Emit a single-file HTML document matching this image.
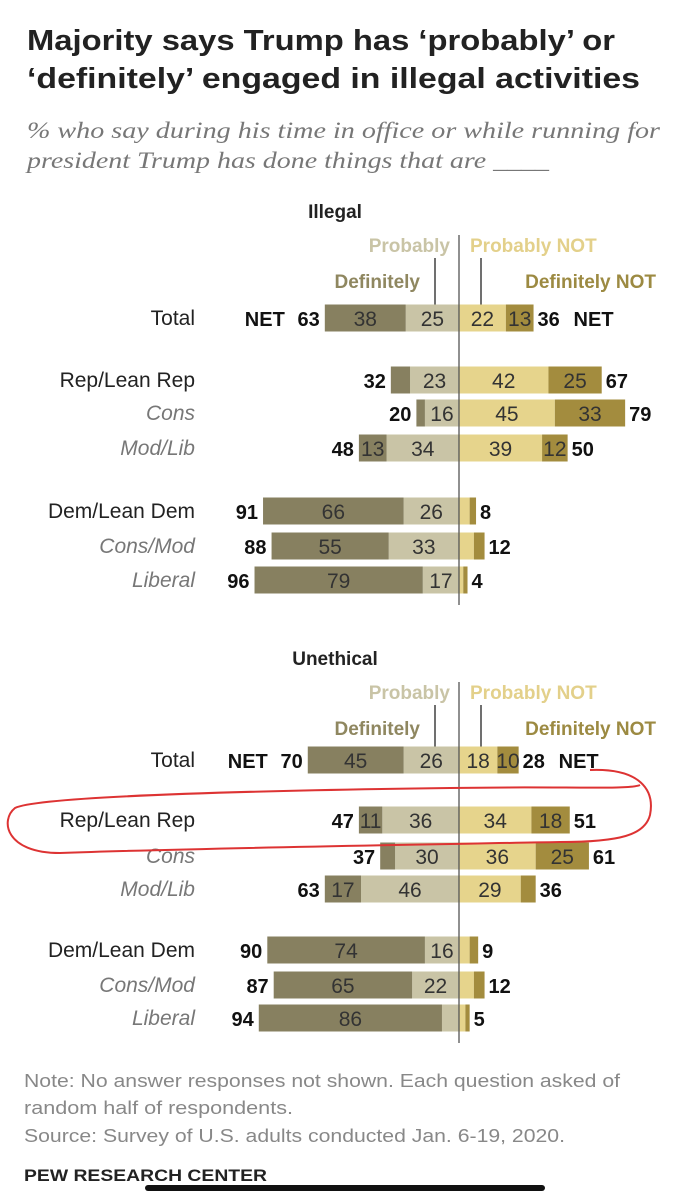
<!DOCTYPE html>
<html><head><meta charset="utf-8">
<style>
body{margin:0;background:#fff;width:695px;height:1200px;overflow:hidden;font-family:"Liberation Sans",Arial,sans-serif}
svg{display:block}
</style></head>
<body>
<svg id="c" width="695" height="1200" xmlns="http://www.w3.org/2000/svg">
<text x="27" y="50" font-size="29" font-weight="bold" fill="#222" textLength="588" lengthAdjust="spacingAndGlyphs">Majority says Trump has ‘probably’ or</text>
<text x="27" y="88" font-size="29" font-weight="bold" fill="#222" textLength="613" lengthAdjust="spacingAndGlyphs">‘definitely’ engaged in illegal activities</text>
<text x="27" y="138" font-size="23" font-style="italic" fill="#777" font-family="Liberation Serif,serif" textLength="633" lengthAdjust="spacingAndGlyphs">% who say during his time in office or while running for</text>
<text x="27" y="168" font-size="23" font-style="italic" fill="#777" font-family="Liberation Serif,serif" textLength="522" lengthAdjust="spacingAndGlyphs">president Trump has done things that are ____</text>
<text x="24" y="1087" font-size="18" fill="#888" textLength="596" lengthAdjust="spacingAndGlyphs">Note: No answer responses not shown. Each question asked of</text>
<text x="24" y="1114" font-size="18" fill="#888" textLength="269" lengthAdjust="spacingAndGlyphs">random half of respondents.</text>
<text x="24" y="1142" font-size="18" fill="#888" textLength="541" lengthAdjust="spacingAndGlyphs">Source: Survey of U.S. adults conducted Jan. 6-19, 2020.</text>
<text x="24" y="1181" font-size="17" font-weight="bold" fill="#222" textLength="243" lengthAdjust="spacingAndGlyphs">PEW RESEARCH CENTER</text>
<rect x="145" y="1185" width="400" height="6" rx="3" fill="#111"/>
</svg>
<script>
const labels=["Total","Rep/Lean Rep","Cons","Mod/Lib","Dem/Lean Dem","Cons/Mod","Liberal"];
const illDef=[38,9,4,13,66,55,79];
const illProb=[25,23,16,34,26,33,17];
const illProbNot=[22,42,45,39,5,7,2];
const illDefNot=[13,25,33,12,3,5,2];
const illNetL=[63,32,20,48,91,88,96];
const illNetR=[36,67,79,50,8,12,4];
const unDef=[45,11,7,17,74,65,86];
const unProb=[26,36,30,46,16,22,8];
const unProbNot=[18,34,36,29,5,7,3];
const unDefNot=[10,18,25,7,4,5,2];
const unNetL=[70,47,37,63,90,87,94];
const unNetR=[28,51,61,36,9,12,5];
const ill={def:illDef,prob:illProb,pn:illProbNot,dn:illDefNot,nl:illNetL,nr:illNetR,show:{d:[1,0,0,1,1,1,1],p:[1,1,1,1,1,1,1],pn:[1,1,1,1,0,0,0],dn:[1,1,1,1,0,0,0]}};
const un={def:unDef,prob:unProb,pn:unProbNot,dn:unDefNot,nl:unNetL,nr:unNetR,show:{d:[1,1,0,1,1,1,1],p:[1,1,1,1,1,1,0],pn:[1,1,1,1,0,0,0],dn:[1,1,1,0,0,0,0]}};
const svg=document.getElementById('c');const NS="http://www.w3.org/2000/svg";
const CX=459,K=2.13,BH=27;
const x=v=>v*K;
function el(t,a,txt){const e=document.createElementNS(NS,t);for(const k in a)e.setAttribute(k,a[k]);if(txt!==undefined)e.textContent=txt;svg.appendChild(e);return e;}
function panel(d,rowsY,title,titleY,name){
 const t=el('text',{x:335,y:titleY,'font-size':19,'font-weight':'bold',fill:'#222','text-anchor':'middle'},title);
 
 
 const ly=titleY+34;
 const l1=el('text',{x:450,y:ly,'font-size':19,'font-weight':'bold',fill:'#c9c4a6','text-anchor':'end'},'Probably');
 
 
 const l2=el('text',{x:470,y:ly,'font-size':19,'font-weight':'bold',fill:'#e3d08a'},'Probably NOT');
 
 
 const l3=el('text',{x:420,y:ly+36,'font-size':19,'font-weight':'bold',fill:'#8f8760','text-anchor':'end'},'Definitely');
 
 
 const l4=el('text',{x:656,y:ly+36,'font-size':19,'font-weight':'bold',fill:'#9c8a42','text-anchor':'end'},'Definitely NOT');
 
 
 const y0=rowsY[0];
 el('line',{x1:CX-24,y1:ly+6,x2:CX-24,y2:y0-10,stroke:'#222','stroke-width':1.3});
 el('circle',{cx:CX-24,cy:y0-10,r:2.5,fill:'#222'});
 el('line',{x1:CX+22,y1:ly+6,x2:CX+22,y2:y0-10,stroke:'#222','stroke-width':1.3});
 el('circle',{cx:CX+22,cy:y0-10,r:2.5,fill:'#222'});
 labels.forEach((lab,i)=>{
  const y=rowsY[i];const sub=(i==2||i==3||i==5||i==6);
  const rl=el('text',{x:195,y:y+7,'font-size':21,fill:sub?'#777':'#222','font-style':sub?'italic':'normal','text-anchor':'end'},lab);
  
  
  const segs=[[CX-x(d.prob[i]),x(d.prob[i]),'#c9c4a6',d.prob[i],d.show.p[i]],
   [CX-x(d.prob[i]+d.def[i]),x(d.def[i]),'#878060',d.def[i],d.show.d[i]],
   [CX,x(d.pn[i]),'#e6d48c',d.pn[i],d.show.pn[i]],
   [CX+x(d.pn[i]),x(d.dn[i]),'#a38c3e',d.dn[i],d.show.dn[i]]];
  segs.forEach((s,j)=>{
   const r=el('rect',{x:s[0],y:y-BH/2,width:s[1],height:BH,fill:s[2]});
   
   
   if(s[4]){const tx=el('text',{x:s[0]+s[1]/2,y:y+8,'font-size':21,fill:'#333','text-anchor':'middle'},s[3]);
    
    }
  });
  const left=CX-x(d.prob[i]+d.def[i]),right=CX+x(d.pn[i]+d.dn[i]);
  const nl=el('text',{x:left-5,y:y+8,'font-size':20,'font-weight':'bold',fill:'#111','text-anchor':'end'},d.nl[i]);
  
  
  const nr=el('text',{x:right+4,y:y+8,'font-size':20,'font-weight':'bold',fill:'#111'},d.nr[i]);
  
  
  if(i==0){
   const a=el('text',{x:left-40,y:y+8,'font-size':20,'font-weight':'bold',fill:'#111','text-anchor':'end'},'NET');
   
   
   const b=el('text',{x:right+40,y:y+8,'font-size':20,'font-weight':'bold',fill:'#111'},'NET');
   
   
  }
 });
 const ln=el('line',{x1:CX,y1:titleY+17,x2:CX,y2:rowsY[6]+25,stroke:'#555','stroke-width':1.3});
 
 
}
panel(ill,[318,380,413,448,511,546,580],'Illegal',218,'illegal');
panel(un,[760,820,856,889,950,985,1018],'Unethical',665,'unethical');
const ann=el('path',{d:'M590,770 C640,768 655,790 650,815 C645,835 620,842 560,842 C400,845 200,848 60,853 C5,853 0,820 15,808 C40,795 300,790 450,788 C560,786 630,790 640,785',fill:'none',stroke:'#d33','stroke-width':2});


</script>
</body></html>
